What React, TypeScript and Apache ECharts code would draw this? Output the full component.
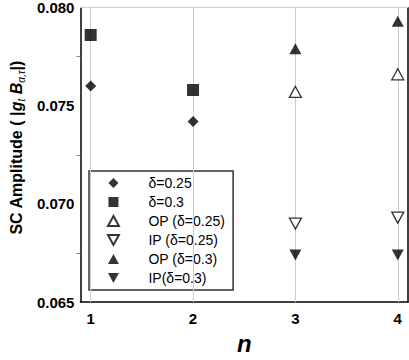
import React, { useEffect, useRef } from "react";
import * as echarts from "echarts";

const nValues = [1, 2, 3, 4];
const yTicks = [0.065, 0.07, 0.075, 0.08];

const seriesNames = ["δ=0.25", "δ=0.3", "OP (δ=0.25)", "IP (δ=0.25)", "OP (δ=0.3)", "IP(δ=0.3)"];
const delta025_n = [1, 2];
const delta025 = [0.0760, 0.0742];
const delta03_n = [1, 2];
const delta03 = [0.0786, 0.0758];
const op025_n = [3, 4];
const op025 = [0.0757, 0.0766];
const ip025_n = [3, 4];
const ip025 = [0.0690, 0.0693];
const op03_n = [3, 4];
const op03 = [0.0779, 0.0793];
const ip03_n = [3, 4];
const ip03 = [0.0674, 0.0674];

const FONT = "'Liberation Sans', Arial, Helvetica, sans-serif";

const ICON_DIAMOND = "path://M5 0 L10 5 L5 10 L0 5 Z";
const ICON_RECT = "path://M0 0 L10 0 L10 10 L0 10 Z";
const ICON_UP = "path://M6 0 L12 11 L0 11 Z";
const ICON_DOWN = "path://M0 0 L12 0 L6 11 Z";
const legendIcons = [ICON_DIAMOND, ICON_RECT, ICON_UP, ICON_DOWN, ICON_UP, ICON_DOWN];

function pairs(xs: number[], ys: number[]) {
  return xs.map((x, i) => [x, ys[i]]);
}

export default function App() {
  const ref = useRef<HTMLDivElement>(null);
  useEffect(() => {
    if (!ref.current) return;
    const chart = echarts.init(ref.current, null, { renderer: "svg" });
    const filled = { color: "#000" };
    const open = { color: "#fff", borderColor: "#000", borderWidth: 1.3 };
    const mk = (name: string, data: number[][], symbol: string, size: any, style: any, rotate = 0) => ({
      type: "scatter",
      name,
      data,
      symbol,
      symbolSize: size,
      symbolRotate: rotate,
      itemStyle: style,
      z: 5,
    });
    chart.setOption({
      animation: false,
      backgroundColor: "#fff",
      grid: { left: 68, top: 7, right: 1, bottom: 42, containLabel: false },
      legend: {
        orient: "vertical",
        left: 89,
        top: 171,
        padding: [5, 8, 5, 18],
        itemWidth: 38,
        itemHeight: 10,
        itemGap: 5,
        symbolKeepAspect: true,
        borderColor: "#333",
        borderWidth: 1.5,
        backgroundColor: "#fff",
        textStyle: { fontFamily: FONT, fontSize: 14, color: "#000", lineHeight: 14, padding: [0, 0, 0, 11] },
        data: seriesNames.map((name, i) => ({ name, icon: legendIcons[i] })),
      },
      xAxis: [
        {
          type: "value",
          min: 0.9,
          max: 4.1,
          position: "bottom",
          name: "n",
          nameLocation: "middle",
          nameGap: 20,
          nameTextStyle: { fontFamily: FONT, fontSize: 24, fontWeight: "bold", fontStyle: "italic", color: "#000" },
          axisLine: { show: true, onZero: false, lineStyle: { color: "#000", width: 1.5 } },
          axisTick: { show: true, inside: true, length: 4, customValues: nValues, lineStyle: { color: "#888" } },
          axisLabel: {
            customValues: nValues,
            margin: 9,
            fontFamily: FONT,
            fontSize: 15,
            fontWeight: "bold",
            color: "#000",
            formatter: (v: number) => String(Math.round(v)),
          },
          splitLine: { show: false },
        },
        {
          type: "value",
          min: 0.9,
          max: 4.1,
          position: "top",
          axisLine: { show: true, onZero: false, lineStyle: { color: "#ccc", width: 1 } },
          axisTick: { show: false },
          axisLabel: { show: false },
          splitLine: { show: false },
        },
      ],
      yAxis: [
        {
          type: "value",
          min: yTicks[0],
          max: yTicks[yTicks.length - 1],
          interval: 0.005,
          position: "left",
          name: "{b|SC Amplitude ( |}{i|g}{s|t}{b| }{i|B}{s|α,τ}{b||)}",
          nameLocation: "middle",
          nameGap: 48,
          nameTextStyle: {
            fontFamily: FONT,
            color: "#000",
            padding: [0, 0, 0, 14],
            rich: {
              b: { fontFamily: FONT, fontSize: 16, fontWeight: "bold", color: "#000", lineHeight: 20, verticalAlign: "middle" },
              i: { fontFamily: FONT, fontSize: 16, fontWeight: "bold", fontStyle: "italic", color: "#000", lineHeight: 20, verticalAlign: "middle" },
              s: { fontFamily: FONT, fontSize: 10, fontStyle: "italic", color: "#000", lineHeight: 20, verticalAlign: "bottom", padding: [7, 0, 0, 0] },
            },
          },
          axisLine: { show: true, onZero: false, lineStyle: { color: "#000", width: 1.5 } },
          axisTick: { show: false },
          minorTick: { show: true, splitNumber: 2, length: 4, lineStyle: { color: "#888" } },
          axisLabel: {
            margin: 6,
            fontFamily: FONT,
            fontSize: 15,
            fontWeight: "bold",
            color: "#000",
            formatter: (v: number) => v.toFixed(3),
          },
          splitLine: { show: false },
        },
        {
          type: "value",
          min: yTicks[0],
          max: yTicks[yTicks.length - 1],
          interval: 0.005,
          position: "right",
          axisLine: { show: true, onZero: false, lineStyle: { color: "#000", width: 1.5 } },
          axisTick: { show: false },
          axisLabel: { show: false },
          splitLine: { show: false },
        },
      ],
      series: [
        {
          type: "scatter",
          name: "grid",
          data: [],
          silent: true,
          markLine: {
            silent: true,
            symbol: ["none", "none"],
            label: { show: false },
            lineStyle: { color: "#ccc", width: 1, type: "solid" },
            data: nValues.map((n) => ({ xAxis: n })),
          },
          z: 1,
        },
        mk(seriesNames[0], pairs(delta025_n, delta025), "diamond", 11, filled),
        mk(seriesNames[1], pairs(delta03_n, delta03), "rect", 12, filled),
        mk(seriesNames[2], pairs(op025_n, op025), "triangle", [12, 11], open),
        mk(seriesNames[3], pairs(ip025_n, ip025), "triangle", [12, 11], open, 180),
        mk(seriesNames[4], pairs(op03_n, op03), "triangle", [12, 11], filled),
        mk(seriesNames[5], pairs(ip03_n, ip03), "triangle", [12, 11], filled, 180),
      ],
    });
    return () => chart.dispose();
  }, []);
  return <div ref={ref} style={{ width: 409, height: 360, position: "absolute", left: 0, top: 0 }} />;
}
